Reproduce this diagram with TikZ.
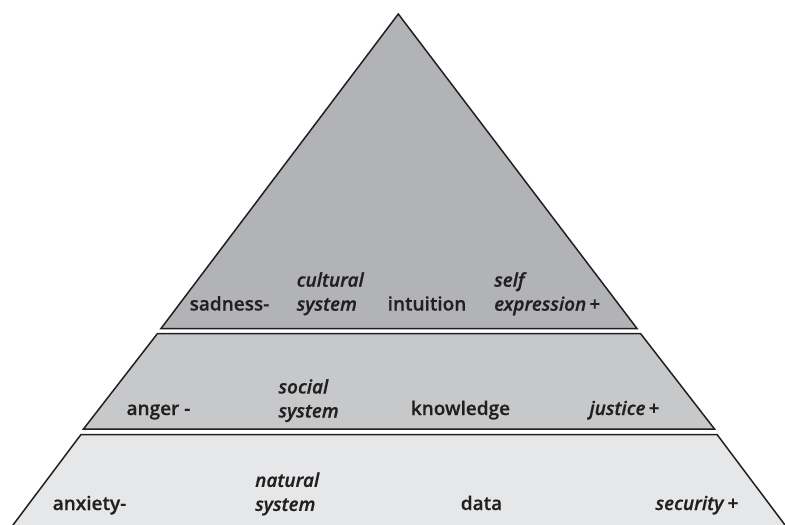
\documentclass[tikz,border=0pt]{standalone}
\usepackage{fontspec}
\setmainfont{Open Sans}[UprightFont={* Semibold}, UprightFeatures={FakeBold=0.5}, ItalicFont={* Semibold Italic}, ItalicFeatures={FakeBold=0.6}]
\definecolor{ink}{RGB}{35,31,32}
\definecolor{topfill}{RGB}{178,179,182}
\definecolor{midfill}{RGB}{199,200,202}
\definecolor{lowfill}{RGB}{230,231,232}
\tikzset{
  band/.style={draw=ink, line width=1.5pt, line join=miter},
  lbl/.style={inner sep=0pt, text=ink, font=\fontsize{19}{24}\selectfont},
  lblc/.style={lbl, anchor=base},
  lblm/.style={lbl, anchor=north west, align=left},
}
\newcommand{\firstline}{\rule{0pt}{16pt}}
\newcommand{\plussign}{\,+}
\begin{document}
\begin{tikzpicture}[x=1pt,y=-1pt]
\useasboundingbox (0,0) rectangle (785,525);
\clip (0,0) rectangle (785,525);
% layers
\draw[band, fill=topfill] (398.3,14) -- (637,328.5) -- (161,328.5) -- cycle;
\draw[band, fill=midfill] (157.5,333.5) -- (640.5,333.5) -- (714.5,429) -- (83.5,429) -- cycle;
\draw[band, fill=lowfill] (81,434.5) -- (717,434.5) -- (800,545) -- (-2,545) -- cycle;
% top layer
\node[lblc] (sadness) at (229.5,310.5) {sadness-};
\node[lblm] (cultural) at (296.5,286.5-16) {\firstline\textit{cultural}\\\textit{system}};
\node[lblc] (intuition) at (427,310.5) {intuition};
\node[lblm] (selfexp) at (494,286.5-16) {\firstline\textit{self}\\\textit{expression}\plussign};
% middle layer
\node[lblc] (anger) at (158.5,415) {anger -};
\node[lblm] (social) at (278.3,393.3-16) {\firstline\textit{social}\\\textit{system}};
\node[lblc] (knowledge) at (460.5,415) {knowledge};
\node[lblc] (justice) at (624.5,415) {\textit{justice}\plussign};
% bottom layer
\node[lblc] (anxiety) at (89.5,510) {anxiety-};
\node[lblm] (natural) at (255,486.7-16) {\firstline\textit{natural}\\\textit{system}};
\node[lblc] (data) at (481.5,510) {data};
\node[lblc] (security) at (697,510) {\textit{security}\plussign};
\end{tikzpicture}
\end{document}
